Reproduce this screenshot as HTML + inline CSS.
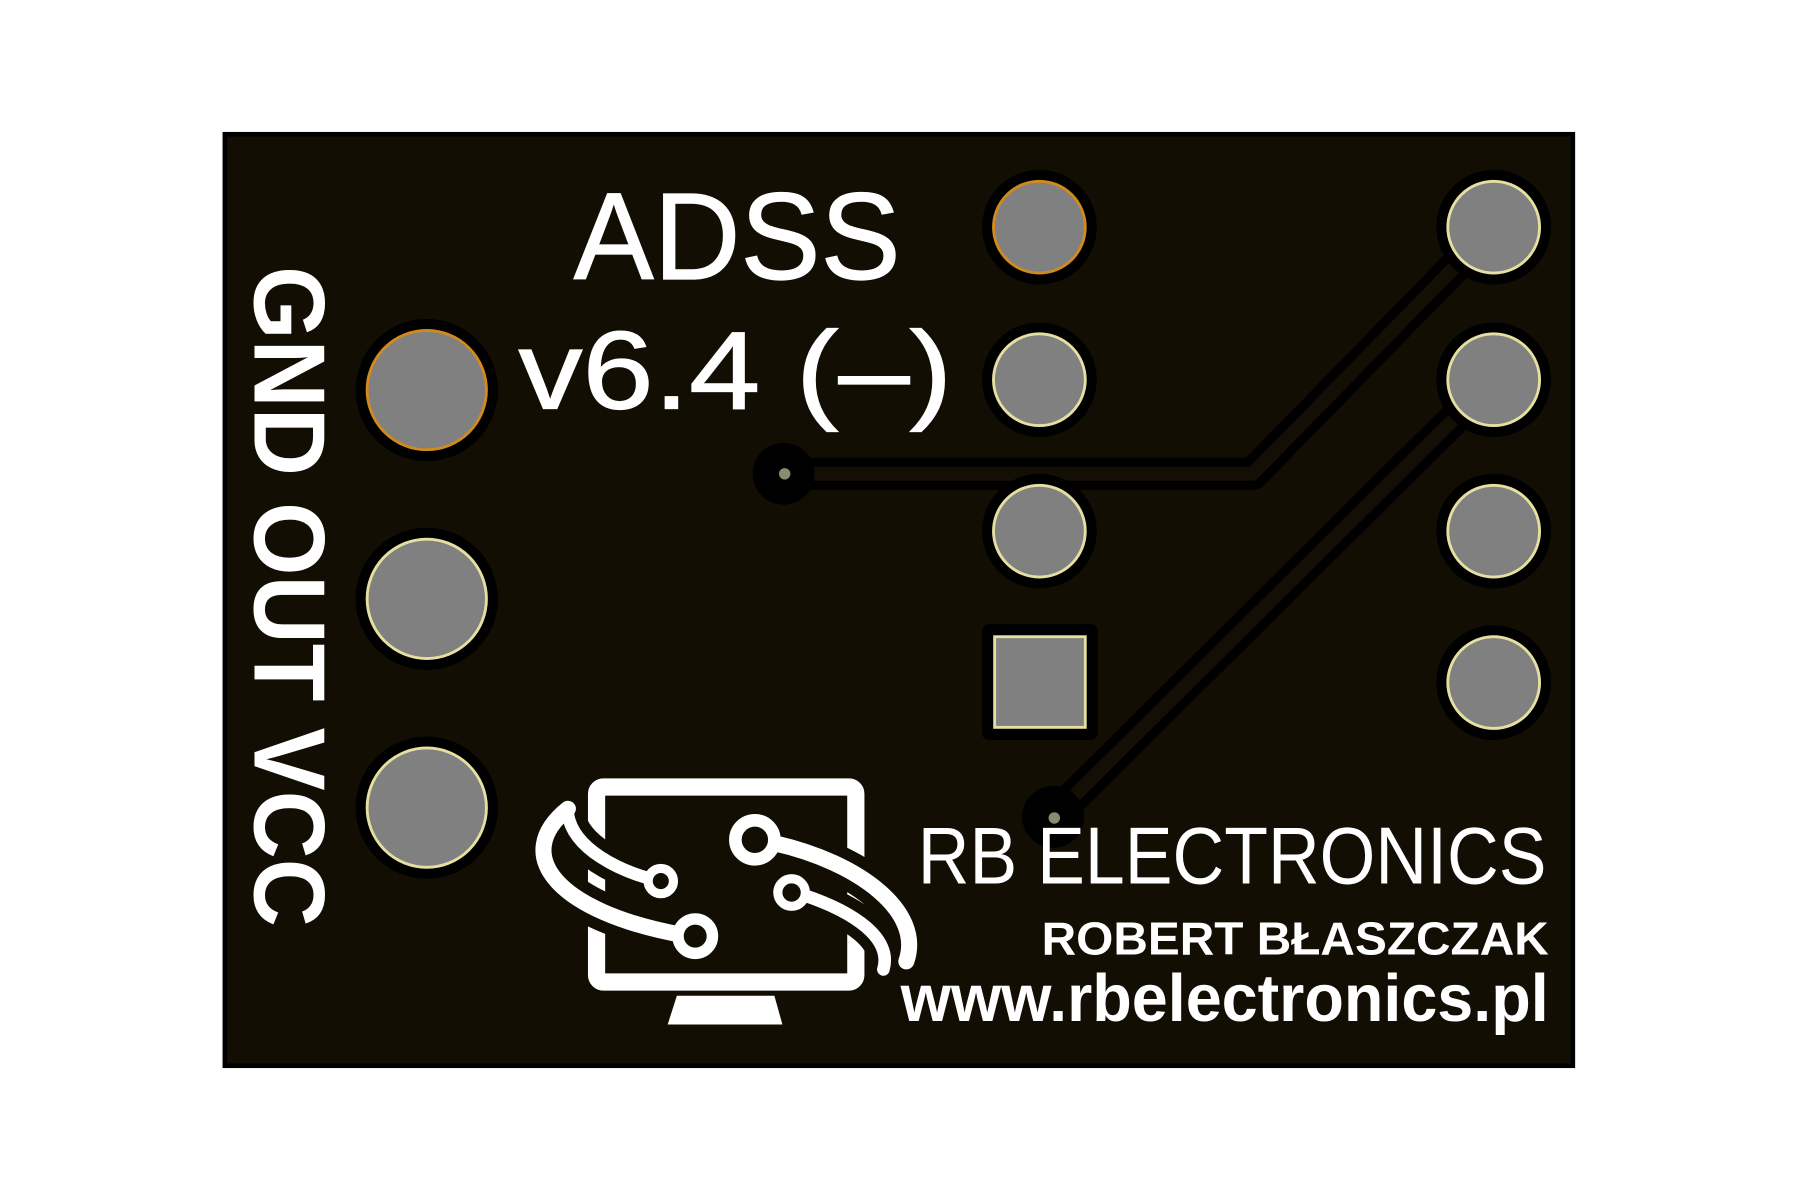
<!DOCTYPE html>
<html><head><meta charset="utf-8"><style>
html,body{margin:0;padding:0;background:#fff;width:1800px;height:1200px;overflow:hidden}
svg{display:block}
text{font-family:"Liberation Sans",sans-serif;fill:#fff}
</style></head><body>
<svg width="1800" height="1200" viewBox="0 0 1569 1046" preserveAspectRatio="none" xmlns="http://www.w3.org/2000/svg">
<rect x="194" y="115" width="1179" height="816" fill="#000"/>
<rect x="198" y="119" width="1171" height="808" fill="#120e04"/>
<!-- traces -->
<g fill="none" stroke-linecap="round" stroke-linejoin="round">
<path d="M683,413 L1092,413 L1302,198" stroke="#000" stroke-width="28"/>
<path d="M918,712 L1302,331" stroke="#000" stroke-width="28"/>
<path d="M683,413 L1092,413 L1302,198" stroke="#140f05" stroke-width="12"/>
<path d="M918,712 L1302,331" stroke="#140f05" stroke-width="12"/>
</g>
<circle cx="683" cy="413" r="27" fill="#000"/>
<circle cx="918" cy="712" r="27" fill="#000"/>
<circle cx="684" cy="413" r="5" fill="#8a8a70"/>
<circle cx="919" cy="713" r="5" fill="#8a8a70"/>
<!-- pads -->
<g fill="#000">
<circle cx="372" cy="340" r="62"/><circle cx="372" cy="522" r="62"/><circle cx="372" cy="704" r="62"/>
<circle cx="906" cy="198" r="50"/><circle cx="906" cy="331" r="50"/><circle cx="906" cy="463" r="50"/>
<rect x="856" y="544" width="101" height="101" rx="6"/>
<circle cx="1302" cy="198" r="50"/><circle cx="1302" cy="331" r="50"/><circle cx="1302" cy="463" r="50"/><circle cx="1302" cy="595" r="50"/>
</g>
<g fill="#808080" stroke-width="2.5">
<circle cx="372" cy="340" r="52" stroke="#d08a1e"/>
<circle cx="372" cy="522" r="52" stroke="#e6e0a0"/>
<circle cx="372" cy="704" r="52" stroke="#e6e0a0"/>
<circle cx="906" cy="198" r="40" stroke="#d08a1e"/>
<circle cx="906" cy="331" r="40" stroke="#e6e0a0"/>
<circle cx="906" cy="463" r="40" stroke="#e6e0a0"/>
<rect x="867" y="555" width="79" height="79" stroke="#e6e0a0"/>
<circle cx="1302" cy="198" r="40" stroke="#e6e0a0"/>
<circle cx="1302" cy="331" r="40" stroke="#e6e0a0"/>
<circle cx="1302" cy="463" r="40" stroke="#e6e0a0"/>
<circle cx="1302" cy="595" r="40" stroke="#e6e0a0"/>
</g>
<!-- text -->
<text x="500" y="243" font-size="108" textLength="285" lengthAdjust="spacingAndGlyphs" stroke="#fff" stroke-width="1">ADSS</text>
<text x="452" y="356" font-size="96" textLength="378" lengthAdjust="spacingAndGlyphs" stroke="#fff" stroke-width="1">v6.4 (–)</text>
<text transform="translate(222,232) rotate(90)" font-size="88" textLength="576" lengthAdjust="spacingAndGlyphs" font-weight="bold">GND OUT VCC</text>
<text x="800" y="770" font-size="70" textLength="548" lengthAdjust="spacingAndGlyphs">RB ELECTRONICS</text>
<text x="908" y="832" font-size="40" font-weight="bold" textLength="442" lengthAdjust="spacingAndGlyphs">ROBERT BŁASZCZAK</text>
<text x="785" y="890" font-size="58" font-weight="bold" textLength="565" lengthAdjust="spacingAndGlyphs">www.rbelectronics.pl</text>
<!-- logo -->
<rect x="520" y="686" width="226" height="170" rx="6" fill="none" stroke="#fff" stroke-width="15"/>
<path d="M590,868 L675,868 L682,893 L582,893 Z" fill="#fff"/>
<g fill="none" stroke-linecap="round">
<path d="M495,705 C445,745 485,795 595,815" stroke="#120e04" stroke-width="34"/>
<path d="M495,710 C500,740 540,760 575,768" stroke="#120e04" stroke-width="30"/>
<path d="M675,735 C750,752 805,795 790,838" stroke="#120e04" stroke-width="34"/>
<path d="M700,780 C745,795 778,818 770,845" stroke="#120e04" stroke-width="30"/>
<path d="M495,705 C445,745 485,795 595,815" stroke="#fff" stroke-width="14"/>
<path d="M495,710 C500,740 540,760 575,768" stroke="#fff" stroke-width="11"/>
<path d="M675,735 C750,752 805,795 790,838" stroke="#fff" stroke-width="14"/>
<path d="M700,780 C745,795 778,818 770,845" stroke="#fff" stroke-width="11"/>
</g>
<g fill="#120e04" stroke="#fff">
<circle cx="606" cy="816" r="15" stroke-width="10"/>
<circle cx="576" cy="768" r="11" stroke-width="8"/>
<circle cx="658" cy="732" r="17" stroke-width="11"/>
<circle cx="690" cy="778" r="12" stroke-width="8"/>
</g>
</svg>
</body></html>
